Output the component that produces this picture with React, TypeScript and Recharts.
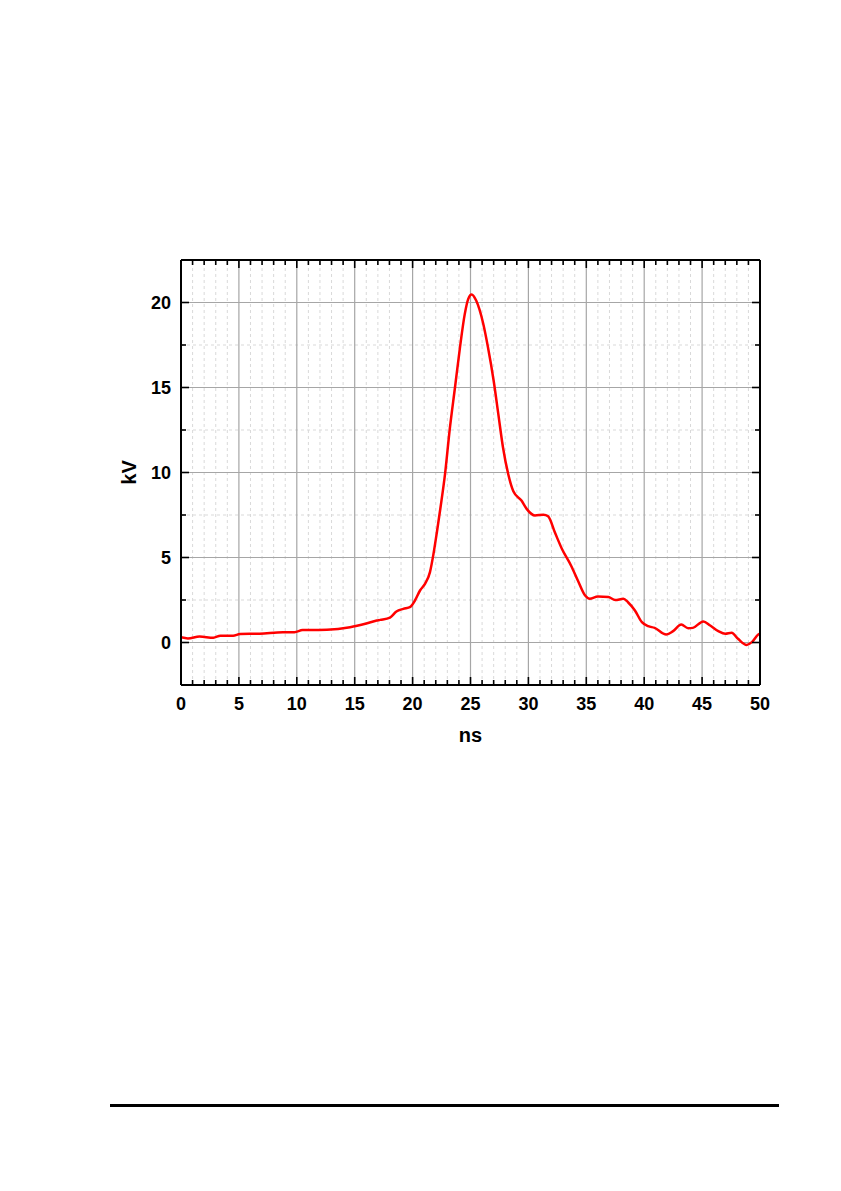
import React from 'react';
import { LineChart, Line, XAxis, YAxis, ReferenceLine } from 'recharts';

const times = [
  0, 0.6, 1.6, 2.8, 3.4, 4.5, 5.1, 6.8, 8.8, 9.8, 10.5, 12.6, 14.6, 16.0, 16.9, 17.2,
  18.05, 18.6, 19.2, 19.8, 20.2, 20.64, 21.07, 21.5, 21.8, 22.1, 22.4, 22.8, 23.2, 23.66,
  24.1, 24.5, 24.8, 25.1, 25.5, 26.1, 26.5, 27.0, 27.4, 27.8, 28.26, 28.7, 29.4, 29.85,
  30.57, 31.3, 31.7, 32.3, 32.9, 33.7, 34.3, 34.9, 35.3, 36.0, 36.9, 37.5, 38.2, 38.6,
  39.2, 39.8, 40.35, 40.9, 41.9, 42.5, 43.2, 43.8, 44.2, 45.1, 45.7, 46.4, 47.0, 47.55,
  48.1, 48.85, 49.3, 49.85, 50,
];
const voltages = [
  0.31, 0.24, 0.35, 0.28, 0.40, 0.40, 0.50, 0.52, 0.61, 0.61, 0.73, 0.75, 0.90, 1.12, 1.29, 1.33,
  1.47, 1.82, 1.98, 2.10, 2.47, 3.06, 3.45, 4.14, 5.2, 6.5, 7.9, 9.9, 12.5, 15.0,
  17.4, 19.3, 20.2, 20.47, 20.1, 18.75, 17.4, 15.4, 13.45, 11.5, 9.9, 8.9, 8.35, 7.86,
  7.47, 7.52, 7.42, 6.45, 5.5, 4.5, 3.6, 2.76, 2.57, 2.7, 2.67, 2.5, 2.57, 2.37,
  1.88, 1.2, 0.96, 0.86, 0.47, 0.67, 1.06, 0.84, 0.86, 1.24, 1.0, 0.67, 0.51, 0.57,
  0.22, -0.14, 0.02, 0.47, 0.52,
];

const xTicks = [
  0, 1, 2, 3, 4, 5, 6, 7, 8, 9, 10, 11, 12, 13, 14, 15, 16, 17, 18, 19, 20, 21, 22, 23, 24, 25,
  26, 27, 28, 29, 30, 31, 32, 33, 34, 35, 36, 37, 38, 39, 40, 41, 42, 43, 44, 45, 46, 47, 48, 49, 50,
];
const yTicks = [-2.5, 0, 2.5, 5, 7.5, 10, 12.5, 15, 17.5, 20, 22.5];
const xMajorGrid = [5, 10, 15, 20, 25, 30, 35, 40, 45];
const xMinorGrid = [
  1, 2, 3, 4, 6, 7, 8, 9, 11, 12, 13, 14, 16, 17, 18, 19, 21, 22, 23, 24, 26, 27, 28, 29,
  31, 32, 33, 34, 36, 37, 38, 39, 41, 42, 43, 44, 46, 47, 48, 49,
];
const yMajorGrid = [0, 5, 10, 15, 20];
const yMinorGrid = [2.5, 7.5, 12.5, 17.5];

const data = times.map((t, i) => ({ t, v: voltages[i] }));

const FONT = "'Liberation Sans', Arial, Helvetica, sans-serif";
const isMajor = (v: number) => Math.abs(v % 5) < 1e-9;
const MAJ = 8;
const MIN = 5;
const TW = 1.6;

const BottomTick = (props: any) => {
  const { x, y, payload } = props;
  const v = payload.value;
  const major = isMajor(v);
  return (
    <g>
      <line x1={x} y1={y} x2={x} y2={y - (major ? MAJ : MIN)} stroke="#000" strokeWidth={TW} />
      {major && (
        <text x={x} y={y + 19} textAnchor="middle" dominantBaseline="central"
          fontFamily={FONT} fontWeight="bold" fontSize={18} fill="#000">{v}</text>
      )}
    </g>
  );
};

const TopTick = (props: any) => {
  const { x, y, payload } = props;
  const major = isMajor(payload.value);
  return <line x1={x} y1={y} x2={x} y2={y + (major ? MAJ : MIN)} stroke="#000" strokeWidth={TW} />;
};

const LeftTick = (props: any) => {
  const { x, y, payload } = props;
  const v = payload.value;
  const major = isMajor(v);
  return (
    <g>
      <line x1={x} y1={y} x2={x + (major ? MAJ : MIN)} y2={y} stroke="#000" strokeWidth={TW} />
      {major && (
        <text x={x - 10} y={y} textAnchor="end" dominantBaseline="central"
          fontFamily={FONT} fontWeight="bold" fontSize={18} fill="#000">{v}</text>
      )}
    </g>
  );
};

const RightTick = (props: any) => {
  const { x, y, payload } = props;
  const major = isMajor(payload.value);
  return <line x1={x} y1={y} x2={x - (major ? MAJ : MIN)} y2={y} stroke="#000" strokeWidth={TW} />;
};

const YLabel = (props: any) => {
  const vb = props.viewBox || {};
  const cx = vb.x + 8;
  const cy = vb.y + vb.height / 2;
  return (
    <text x={cx} y={cy} transform={`rotate(-90, ${cx}, ${cy})`} textAnchor="middle"
      dominantBaseline="central" fontFamily={FONT} fontWeight="bold" fontSize={20} fill="#000">kV</text>
  );
};

const XLabel = (props: any) => {
  const vb = props.viewBox || {};
  const cx = vb.x + vb.width / 2;
  const cy = vb.y + 50;
  return (
    <text x={cx} y={cy} textAnchor="middle" dominantBaseline="central"
      fontFamily={FONT} fontWeight="bold" fontSize={20} fill="#000">ns</text>
  );
};

const axisLine = { stroke: '#000', strokeWidth: 2 };

export default function App() {
  return (
    <div style={{ position: 'relative', width: 825, height: 1120 }}>
      <LineChart
        width={825}
        height={800}
        data={data}
        margin={{ top: 242, right: 63, bottom: 63, left: 113 }}
      >
        <XAxis xAxisId="b" type="number" dataKey="t" domain={[0, 50]} ticks={xTicks} interval={0}
          orientation="bottom" height={60} tickSize={0} tickMargin={0} tickLine={false}
          axisLine={axisLine} tick={<BottomTick />} allowDataOverflow label={<XLabel />} />
        <XAxis xAxisId="t" type="number" dataKey="t" domain={[0, 50]} ticks={xTicks} interval={0}
          orientation="top" height={10} tickSize={0} tickMargin={0} tickLine={false}
          axisLine={axisLine} tick={<TopTick />} allowDataOverflow />
        <YAxis yAxisId="l" type="number" domain={[-2.5, 22.5]} ticks={yTicks} interval={0}
          orientation="left" width={60} tickSize={0} tickMargin={0} tickLine={false}
          axisLine={axisLine} tick={<LeftTick />} allowDataOverflow label={<YLabel />} />
        <YAxis yAxisId="r" type="number" domain={[-2.5, 22.5]} ticks={yTicks} interval={0}
          orientation="right" width={10} tickSize={0} tickMargin={0} tickLine={false}
          axisLine={axisLine} tick={<RightTick />} allowDataOverflow />
        {xMinorGrid.map((g) => (
          <ReferenceLine key={`xm${g}`} x={g} xAxisId="b" yAxisId="l" stroke="#d9d9d9"
            strokeDasharray="3 3" strokeWidth={1} />
        ))}
        {yMinorGrid.map((g) => (
          <ReferenceLine key={`ym${g}`} y={g} xAxisId="b" yAxisId="l" stroke="#d9d9d9"
            strokeDasharray="3 3" strokeWidth={1} />
        ))}
        {xMajorGrid.map((g) => (
          <ReferenceLine key={`xM${g}`} x={g} xAxisId="b" yAxisId="l" stroke="#a6a6a6" strokeWidth={1.2} />
        ))}
        {yMajorGrid.map((g) => (
          <ReferenceLine key={`yM${g}`} y={g} xAxisId="b" yAxisId="l" stroke="#a6a6a6" strokeWidth={1.2} />
        ))}
        <Line xAxisId="b" yAxisId="l" type="monotone" dataKey="v" stroke="#ff0000" strokeWidth={2.5}
          dot={false} activeDot={false} isAnimationActive={false} />
      </LineChart>
      <div style={{ position: 'absolute', left: 102, top: 1096, width: 669, height: 3, background: '#000' }} />
    </div>
  );
}
